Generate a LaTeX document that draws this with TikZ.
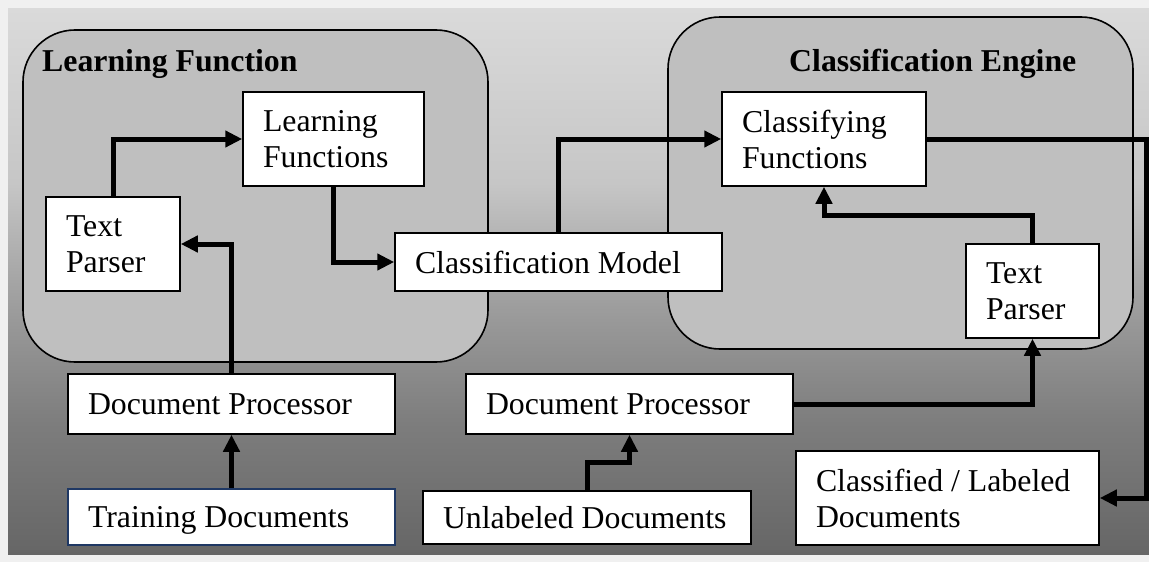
\documentclass[tikz,border=0pt]{standalone}
\usepackage{fontspec}
\setmainfont{Liberation Serif}
\usetikzlibrary{arrows.meta}
\definecolor{outerbg}{HTML}{F0F0F0}
\definecolor{panelfill}{HTML}{BFBFBF}
\definecolor{navyedge}{HTML}{1F3864}
\definecolor{ga}{HTML}{666666}
\definecolor{gb}{HTML}{7D7D7D}
\definecolor{gc}{HTML}{969696}
\definecolor{gd}{HTML}{A5A5A5}
\definecolor{ge}{HTML}{C6C6C6}
\definecolor{gf}{HTML}{DADADA}
\pgfdeclareverticalshading{bgshade}{100bp}{color(0bp)=(ga); color(25bp)=(ga); color(37bp)=(gb); color(45.5bp)=(gc); color(50bp)=(gd); color(59bp)=(ge); color(75bp)=(gf); color(100bp)=(gf)}
\tikzset{
  panel/.style={fill=panelfill, draw=black, line width=1.6pt, rounded corners=52pt},
  titletext/.style={font=\fontsize{31.8}{36}\selectfont\bfseries, inner sep=0pt, anchor=base west},
  box/.style={draw=black, fill=white, line width=1.5pt, align=flush left, inner xsep=20pt, inner ysep=0pt},
  arr/.style={line width=5pt, line join=miter, -{Triangle[length=17pt,width=16pt]}}
}
\begin{document}
\begin{tikzpicture}[x=1pt,y=-1pt,font=\fontsize{31.8}{36}\selectfont]
\useasboundingbox (0,0) rectangle (1149,562);
\fill[outerbg] (0,0) rectangle (1149,562);
\shade[shading=bgshade] (8,8) rectangle (1149,554);

\draw[panel] (23,30) rectangle (488,362);
\draw[panel] (668,17) rectangle (1133,349);

\node[titletext] (t1) at (42,71) {Learning Function};
\node[titletext] (t2) at (789,71) {Classification Engine};

\node[box, minimum width=181pt, minimum height=94pt, text width=141pt] (lf) at (333.5,139) {Learning\\Functions};
\node[box, minimum width=134pt, minimum height=94pt, text width=94pt] (tp1) at (113,244) {Text\\Parser};
\node[box, minimum width=327pt, minimum height=58pt, text width=287pt] (cm) at (558.5,262) {Classification Model};
\node[box, minimum width=204pt, minimum height=94pt, text width=164pt] (cf) at (824,139) {Classifying\\Functions};
\node[box, minimum width=133pt, minimum height=94pt, text width=93pt] (tp2) at (1032.5,291) {Text\\Parser};
\node[box, minimum width=327pt, minimum height=60pt, text width=287pt] (dp1) at (231.5,404) {Document Processor};
\node[box, draw=navyedge, text depth=0pt, minimum width=327pt, minimum height=56pt, text width=287pt] (td) at (231.5,517) {Training Documents};
\node[box, minimum width=327pt, minimum height=60pt, text width=287pt] (dp2) at (629.5,404) {Document Processor};
\node[box, minimum width=328pt, minimum height=53pt, text width=288pt] (ud) at (587,517.5) {Unlabeled Documents};
\node[box, minimum width=303pt, minimum height=94pt, text width=263pt] (cl) at (947.5,498) {Classified / Labeled\\Documents};

\draw[arr] (tp1.north) |- (lf.west);
\draw[arr] (lf.south) |- (cm.west);
\draw[arr] (cm.north) |- (cf.west);
\draw[arr] (cf.east) -- ++(220,0) |- (cl.east);
\draw[arr] (tp2.north) -- ++(0,-28) -| (cf.south);
\draw[arr] (dp1.north) |- (tp1.east);
\draw[arr] (td.north) -- (dp1.south);
\draw[arr] (dp2.east) -| (tp2.south);
\draw[arr] (ud.north) -- ++(0,-28) -| (dp2.south);
\end{tikzpicture}
\end{document}
